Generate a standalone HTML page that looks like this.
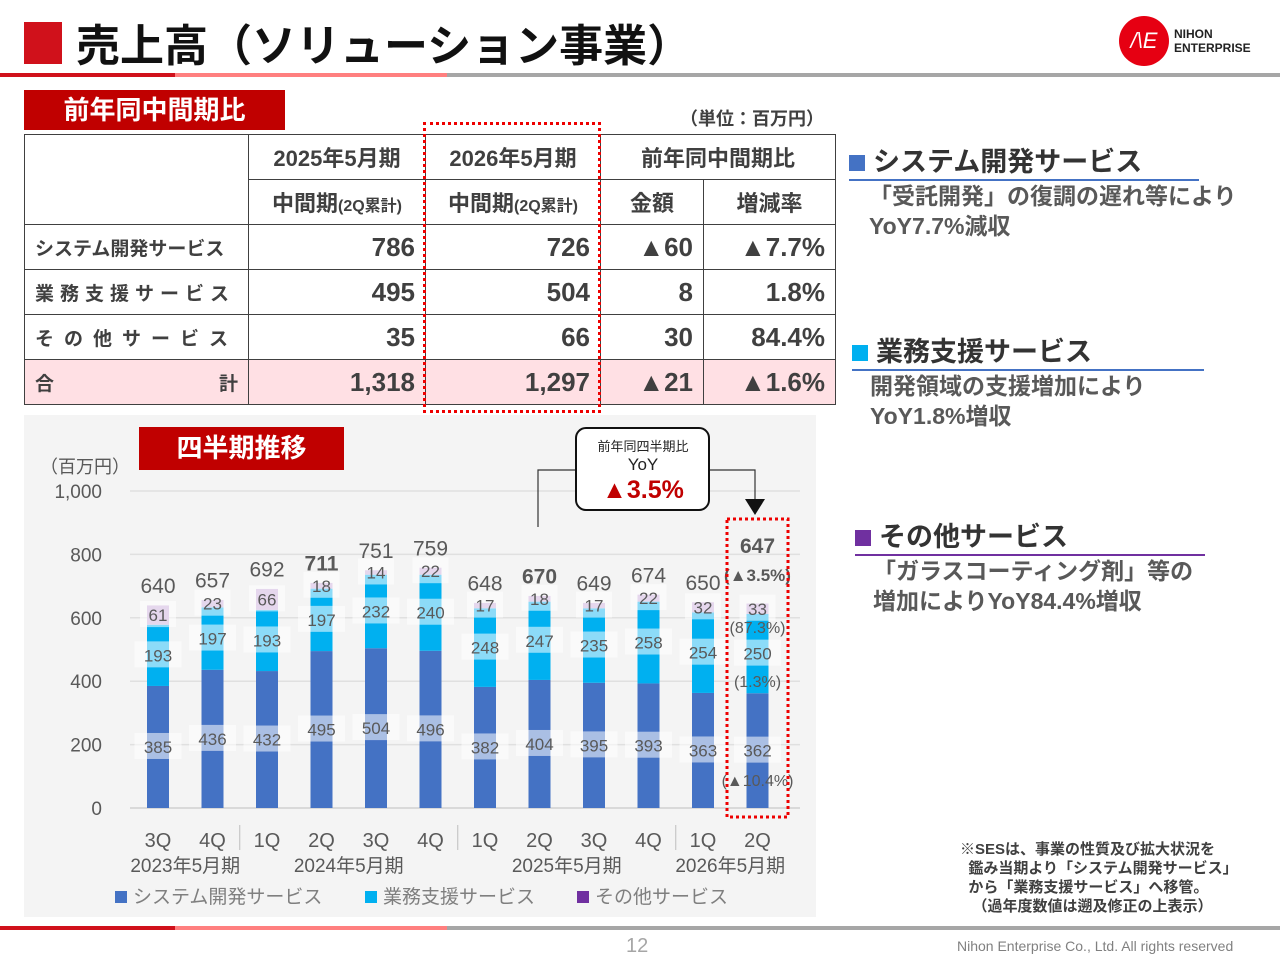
<!DOCTYPE html>
<html><head><meta charset="utf-8">
<style>
body{margin:0;width:1280px;height:960px;position:relative;background:#fff;font-family:"Liberation Sans","Noto Sans CJK JP",sans-serif;overflow:hidden}
.a{position:absolute}
table{border-collapse:collapse;position:absolute;left:24px;top:134px;font-weight:bold;color:#404040;table-layout:fixed;width:811px}
td{border:1px solid #404040;padding:0 10px;height:44px;font-size:26px;text-align:right;white-space:nowrap;overflow:hidden}
.h td{font-size:22px;text-align:center}
.lab{font-size:19px;text-align:left!important;padding-left:10px}
.tot td{background:#ffe0e4}
.rt{font-size:27px;font-weight:bold;color:#333}
.rs{font-size:23px;font-weight:bold;color:#595959;line-height:30px}
</style></head><body>
<div class="a" style="left:24px;top:22px;width:38px;height:42px;background:#d0111b"></div>
<div class="a" style="left:76px;top:10px;font-size:44px;font-weight:bold;color:#111">売上高（ソリューション事業）</div>
<div class="a" style="left:1119px;top:16px;width:50px;height:50px;border-radius:50%;background:#e60012;color:#fff;font-size:22px;text-align:center;line-height:50px;font-style:italic">/\E</div>
<div class="a" style="left:1174px;top:27px;font-size:12px;font-weight:bold;line-height:14px;color:#222">NIHON<br>ENTERPRISE</div>
<div class="a" style="left:0;top:73px;width:1280px;height:4px;background:linear-gradient(90deg,#d0111b 0 175px,#ff7f7f 175px 447px,#a6a6a6 447px)"></div>
<div class="a" style="left:24px;top:90px;width:261px;height:40px;background:#c00000;color:#fff;font-size:26px;font-weight:bold;text-align:center;line-height:40px">前年同中間期比</div>
<div class="a" style="left:680px;top:105px;font-size:18px;font-weight:bold;color:#404040">（単位：百万円）</div>
<table>
<colgroup><col style="width:224px"><col style="width:177px"><col style="width:175px"><col style="width:103px"><col style="width:132px"></colgroup>
<tr class="h"><td rowspan="2"></td><td>2025年5月期</td><td>2026年5月期</td><td colspan="2">前年同中間期比</td></tr>
<tr class="h"><td>中間期<span style="font-size:16px">(2Q累計)</span></td><td>中間期<span style="font-size:16px">(2Q累計)</span></td><td>金額</td><td>増減率</td></tr>
<tr><td class="lab">システム開発サービス</td><td>786</td><td>726</td><td>▲60</td><td>▲7.7%</td></tr>
<tr><td class="lab" style="letter-spacing:6px">業務支援サービス</td><td>495</td><td>504</td><td>8</td><td>1.8%</td></tr>
<tr><td class="lab" style="letter-spacing:10px">その他サービス</td><td>35</td><td>66</td><td>30</td><td>84.4%</td></tr>
<tr class="tot"><td class="lab">合<span style="float:right">計</span></td><td>1,318</td><td>1,297</td><td>▲21</td><td>▲1.6%</td></tr>
</table>
<div class="a" style="left:423px;top:122px;width:172px;height:285px;border:3px dotted #e00"></div>

<div class="a" style="left:849px;top:140px"><span class="rt"><span style="display:inline-block;width:16px;height:16px;background:#4472c4;margin-right:8px"></span>システム開発サービス</span><div style="width:350px;height:2px;background:#4472c4"></div><div class="rs" style="margin-left:20px">「受託開発」の復調の遅れ等により<br>YoY7.7%減収</div></div>
<div class="a" style="left:852px;top:330px"><span class="rt"><span style="display:inline-block;width:16px;height:16px;background:#00b0f0;margin-right:8px"></span>業務支援サービス</span><div style="width:352px;height:2px;background:#4472c4"></div><div class="rs" style="margin-left:18px">開発領域の支援増加により<br>YoY1.8%増収</div></div>
<div class="a" style="left:855px;top:515px"><span class="rt"><span style="display:inline-block;width:16px;height:16px;background:#7030a0;margin-right:8px"></span>その他サービス</span><div style="width:350px;height:2px;background:#7030a0"></div><div class="rs" style="margin-left:18px">「ガラスコーティング剤」等の<br>増加によりYoY84.4%増収</div></div>
<div class="a" style="left:960px;top:840px;font-size:15px;font-weight:bold;color:#404040;line-height:19px">※SESは、事業の性質及び拡大状況を<br>&nbsp;&nbsp;鑑み当期より「システム開発サービス」<br>&nbsp;&nbsp;から「業務支援サービス」へ移管。<br>&nbsp;&nbsp;&nbsp;（過年度数値は遡及修正の上表示）</div>

<svg class="a" style="left:0;top:0" width="1280" height="960">
<rect x="24" y="415" width="792" height="502" fill="#f4f4f4"/>
<g id="g"></g>
</svg>
<div class="a" style="left:139px;top:427px;width:205px;height:43px;background:#c00000;color:#fff;font-size:26px;font-weight:bold;text-align:center;line-height:43px">四半期推移</div>
<div class="a" style="left:0;top:926px;width:1280px;height:4px;background:linear-gradient(90deg,#d0111b 0 175px,#ff7f7f 175px 447px,#a6a6a6 447px)"></div>
<div class="a" style="left:626px;top:935px;font-size:20px;color:#a6a6a6">12</div>
<div class="a" style="left:957px;top:938px;font-size:14px;color:#808080">Nihon Enterprise Co., Ltd. All rights reserved</div>
<script>
const quarters=["3Q","4Q","1Q","2Q","3Q","4Q","1Q","2Q","3Q","4Q","1Q","2Q"];
const sysVals=[385,436,432,495,504,496,382,404,395,393,363,362];
const supVals=[193,197,193,197,232,240,248,247,235,258,254,250];
const othVals=[61,23,66,18,14,22,17,18,17,22,32,33];
const totals=[640,657,692,711,751,759,648,670,649,674,650,647];
const yTicks=[0,200,400,600,800,1000];
const years=["2023年5月期","2024年5月期","2025年5月期","2026年5月期"];
const NS="http://www.w3.org/2000/svg";
const g=document.getElementById('g');
const y=v=>808-v*0.317;
const x=i=>158+i*54.5;
function el(t,a,txt){const e=document.createElementNS(NS,t);for(const k in a)e.setAttribute(k,a[k]);if(txt!==undefined)e.textContent=txt;g.appendChild(e);return e;}
yTicks.forEach(v=>{
 const l=el('line',{x1:130,x2:800,y1:y(v),y2:y(v),stroke:v?'#e0e0e0':'#d0d0d0','stroke-width':1.5});
 
 
 const t=el('text',{x:102,y:y(v)+7,'text-anchor':'end','font-size':19,fill:'#595959'},v===1000?'1,000':v);
 
 
});
const u=el('text',{x:40,y:473,'font-size':18,fill:'#595959'},'（百万円）');


function lbl(cx,cy,s,bold,big){
 const w=s.length*11+14;
 const r=el('rect',{x:cx-w/2,y:cy-14,width:w,height:26,fill:'#fff','fill-opacity':0.55});
 
 
 const t=el('text',{x:cx,y:cy+6,'text-anchor':'middle','font-size':big||17,fill:'#595959','font-weight':bold?'bold':'normal'},s);
 
 
}
quarters.forEach((q,i)=>{
 const cx=x(i),w=22;
 const s=sysVals[i],p=supVals[i],o=othVals[i];
 const b1=el('rect',{x:cx-w/2,y:y(s),width:w,height:y(0)-y(s),fill:'#4472c4'});
 
 
 const b2=el('rect',{x:cx-w/2,y:y(s+p),width:w,height:y(s)-y(s+p),fill:'#00b0f0'});
 
 
 const b3=el('rect',{x:cx-w/2,y:y(s+p+o),width:w,height:y(s+p)-y(s+p+o),fill:'#c5a6d8'});
 
 
 lbl(cx,y(s/2),String(s));
 lbl(cx,y(s+p/2),String(p));
 lbl(cx,y(s+p+o/2),String(o));
 const bold=(i===3||i===7||i===11);
 const t=el('text',{x:cx,y:y(totals[i])-(i===11?50:12),'text-anchor':'middle','font-size':21,fill:'#595959','font-weight':bold?'bold':'normal'},totals[i]);
 
 
 const q1=el('text',{x:cx,y:847,'text-anchor':'middle','font-size':20,fill:'#595959'},q);
 
 
});
[[0,1],[2,5],[6,9],[10,11]].forEach((r,k)=>{
 const t=el('text',{x:(x(r[0])+x(r[1]))/2,y:872,'text-anchor':'middle','font-size':19,fill:'#595959'},years[k]);
 
 
});
[1.5,5.5,9.5].forEach(v=>{const l=el('line',{x1:x(v),x2:x(v),y1:825,y2:850,stroke:'#bfbfbf'});});
const notes=[["(▲3.5%)",y(647)-28],["(87.3%)",627],["(1.3%)",681],["(▲10.4%)",780]];
notes.forEach(n=>{const t=el('text',{x:x(11),y:n[1]+6,'text-anchor':'middle','font-size':n[0]==="(▲3.5%)"?17:16,fill:'#595959','font-weight':n[0]==="(▲3.5%)"?'bold':'normal'},n[0]);});
const hb=el('rect',{x:727,y:519,width:61,height:298,fill:'none',stroke:'#e00','stroke-width':3,'stroke-dasharray':'3 3'});

const cl=el('path',{d:'M538 527 V470 H578 M708 470 H755 V500',fill:'none',stroke:'#333','stroke-width':1.2});

const ar=el('path',{d:'M745 499 L765 499 L755 515 Z',fill:'#111'});

const cb=el('rect',{x:576,y:428,width:133,height:82,rx:10,fill:'#fff',stroke:'#111','stroke-width':2});

[['前年同四半期比',451,13,'#222','normal'],['YoY',470,17,'#222','normal'],['▲3.5%',498,25,'#c00000','bold']].forEach(c=>{const t=el('text',{x:643,y:c[1],'text-anchor':'middle','font-size':c[2],fill:c[3],'font-weight':c[4]},c[0]);});
[['#4472c4','システム開発サービス',115],['#00b0f0','業務支援サービス',365],['#7030a0','その他サービス',577]].forEach(l=>{
 const r=el('rect',{x:l[2],y:891,width:12,height:12,fill:l[0]});
 const t=el('text',{x:l[2]+18,y:903,'font-size':19,fill:'#7f7f7f'},l[1]);
});
</script>
</body></html>
